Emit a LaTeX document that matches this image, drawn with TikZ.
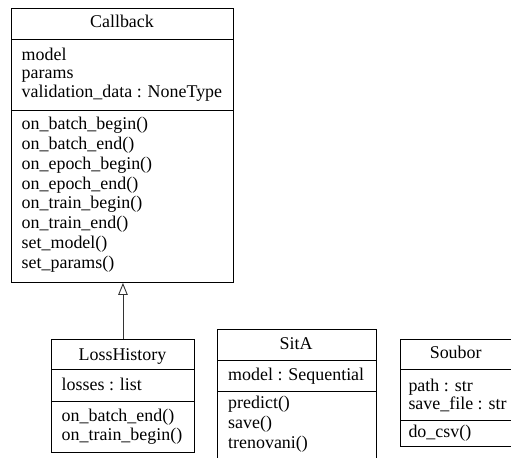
\documentclass[tikz,border=0pt]{standalone}
\usepackage{fontspec}
\setmainfont{Liberation Serif}
\usetikzlibrary{arrows.meta}
\begin{document}
\begin{tikzpicture}[x=1bp,y=-1bp,
  classbox/.style={draw, line width=0.9bp, rectangle, inner sep=0pt, anchor=north west},
  sepline/.style={line width=0.9bp},
  txt/.style={inner sep=0pt, font=\fontsize{18}{18.5}\selectfont},
  title/.style={txt, anchor=base},
  member/.style={txt, anchor=base west},
  inherit/.style={line width=0.9bp, draw=black!80, -{Triangle[open, length=12bp, width=9.5bp]}}]
\useasboundingbox (0,0) rectangle (511,458);

% ---------------- Callback ----------------
\node[classbox, minimum width=222bp, minimum height=274bp] (callback) at (11,8) {};
\draw[sepline] (callback.west |- 0,39) -- (callback.east |- 0,39);
\draw[sepline] (callback.west |- 0,110) -- (callback.east |- 0,110);
\node[title]  (cbT)  at (122,28)    {Callback};
\node[member] (cbA1) at (21.5,60.5) {model};
\node[member] (cbA2) at (21.5,79)   {params};
\node[member] (cbA3) at (21.5,97.5) {validation\_data : NoneType};
\node[member] (cbM1) at (21.5,130)   {on\_batch\_begin()};
\node[member] (cbM2) at (21.5,149.7) {on\_batch\_end()};
\node[member] (cbM3) at (21.5,169.4) {on\_epoch\_begin()};
\node[member] (cbM4) at (21.5,189.1) {on\_epoch\_end()};
\node[member] (cbM5) at (21.5,208.8) {on\_train\_begin()};
\node[member] (cbM6) at (21.5,228.5) {on\_train\_end()};
\node[member] (cbM7) at (21.5,248.2) {set\_model()};
\node[member] (cbM8) at (21.5,268)   {set\_params()};

% ---------------- LossHistory ----------------
\node[classbox, minimum width=143bp, minimum height=113bp] (loss) at (51,339) {};
\draw[sepline] (loss.west |- 0,369) -- (loss.east |- 0,369);
\draw[sepline] (loss.west |- 0,401) -- (loss.east |- 0,401);
\node[title]  (lhT)  at (122.5,360) {LossHistory};
\node[member] (lhA1) at (61.5,390)   {losses : list};
\node[member] (lhM1) at (61.5,421.7) {on\_batch\_end()};
\node[member] (lhM2) at (61.5,440)   {on\_train\_begin()};

% ---------------- SitA ----------------
\node[classbox, minimum width=158.5bp, minimum height=131bp] (sita) at (217.3,329) {};
\draw[sepline] (sita.west |- 0,360) -- (sita.east |- 0,360);
\draw[sepline] (sita.west |- 0,391) -- (sita.east |- 0,391);
\node[title]  (saT)  at (296,349.3) {SitA};
\node[member] (saA1) at (228,380)   {model : Sequential};
\node[member] (saM1) at (228,408.5) {predict()};
\node[member] (saM2) at (228,428)   {save()};
\node[member] (saM3) at (228,448)   {trenovani()};

% ---------------- Soubor ----------------
\node[classbox, minimum width=113bp, minimum height=107bp] (soubor) at (400.3,339.3) {};
\draw[sepline] (soubor.west |- 0,369.3) -- (soubor.east |- 0,369.3);
\draw[sepline] (soubor.west |- 0,420.5) -- (soubor.east |- 0,420.5);
\node[title]  (soT)  at (455.7,358.3) {Soubor};
\node[member] (soA1) at (408.3,391.5) {path : str};
\node[member] (soA2) at (408.3,409)   {save\_file : str};
\node[member] (soM1) at (408.3,437)   {do\_csv()};

% ---------------- generalisation ----------------
\draw[inherit] (loss.north) -- (loss.north |- callback.south);
\end{tikzpicture}
\end{document}
